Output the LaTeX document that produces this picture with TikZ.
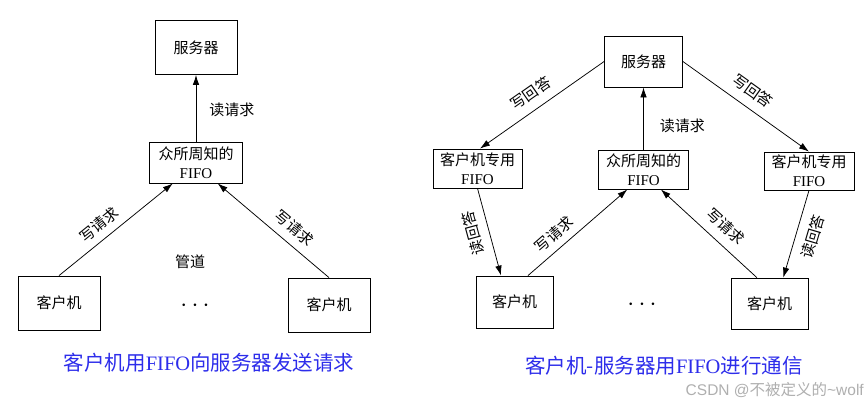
\documentclass[tikz,border=0pt]{standalone}
\usepackage{fontspec}
\setmainfont{Noto Sans CJK SC}
\newfontfamily\lat{Liberation Serif}
\newfontfamily\wmfont{Liberation Sans}
\usetikzlibrary{arrows.meta}
\definecolor{capblue}{RGB}{45,45,235}
\definecolor{wmgray}{RGB}{175,175,175}
\tikzset{
 box/.style={draw, line width=0.8pt, inner sep=0pt, font=\fontsize{15}{19}\selectfont, align=center},
 arr/.style={line width=0.75pt, -{Latex[length=10pt,width=6.5pt]}},
 rarr/.style={line width=0.75pt, {Latex[length=10pt,width=6.5pt]}-},
 lab/.style={font=\fontsize{15}{18}\selectfont, inner sep=0pt},
 captxt/.style={font=\fontsize{20.5}{24}\selectfont, text=capblue, inner sep=0pt},
 dotnode/.style={font=\fontsize{30}{30}\selectfont, inner sep=0pt},
}
\begin{document}
\begin{tikzpicture}[x=1pt,y=-1pt]
\useasboundingbox[fill=white] (0,0) rectangle (865,405);

% ---------- left diagram ----------
\node[box, minimum width=82pt, minimum height=54pt] (srvL) at (196,47.5) {服务器};
\node[box, minimum width=93pt, minimum height=41pt] (fifoL) at (196,162.5) {众所周知的\\{\lat FIFO}};
\node[box, minimum width=82pt, minimum height=54pt] (cL1) at (59,303) {客户机};
\node[box, minimum width=82pt, minimum height=54pt] (cL2) at (329,305) {客户机};

\draw[arr] (fifoL.north) -- node[lab, pos=0.48, right=13pt] {读请求} (srvL.south);
\draw[arr] (cL1.north) -- node[lab, sloped, pos=0.43, above=7pt] {写请求} (fifoL.222);
\draw[rarr] (fifoL.316) -- node[lab, sloped, pos=0.60, above=8.5pt] {写请求} (cL2.north);
\node[lab] (pipe) at (190,262) {管道};
\node[dotnode] (dotsL) at (195,306) {$\cdots$};

% ---------- right diagram ----------
\node[box, minimum width=78pt, minimum height=51pt] (srvR) at (643.5,61.5) {服务器};
\node[box, minimum width=90pt, minimum height=39pt] (fifoR) at (643.5,169.5) {众所周知的\\{\lat FIFO}};
\node[box, minimum width=89pt, minimum height=39pt] (pfL) at (477.5,168.5) {客户机专用\\{\lat FIFO}};
\node[box, minimum width=90pt, minimum height=38pt] (pfR) at (809,171) {客户机专用\\{\lat FIFO}};
\node[box, minimum width=77pt, minimum height=52pt] (crL) at (514.5,302) {客户机};
\node[box, minimum width=77pt, minimum height=51pt] (crR) at (769.5,303.5) {客户机};

\draw[arr] (fifoR.north) -- node[lab, pos=0.38, right=16pt] {读请求} (srvR.south);
\draw[rarr] (pfL.83) -- node[lab, sloped, pos=0.484, above=9pt] {写回答} (srvR.west);
\draw[arr] (srvR.east) -- node[lab, sloped, pos=0.477, above=9.5pt] {写回答} (pfR.north);
\draw[rarr] (crL.117) -- node[lab, sloped, allow upside down, pos=0.536, above=8.5pt] {读回答} (pfL.south);
\draw[rarr] (crR.62) -- node[lab, sloped, pos=0.523, below=9.5pt] {读回答} (pfR.south);
\draw[arr] (crL.63) -- node[lab, sloped, pos=0.356, above=7pt] {写请求} (fifoR.231);
\draw[rarr] (fifoR.311) -- node[lab, sloped, pos=0.561, above=9.5pt] {写请求} (crR.116);
\node[dotnode] (dotsR) at (642,305) {$\cdots$};

% ---------- captions ----------
\node[captxt] (capL) at (209,363) {客户机用{\lat FIFO}向服务器发送请求};
\node[captxt] (capR) at (664,366) {客户机-服务器用{\lat FIFO}进行通信};
\node[font=\fontsize{15.5}{17}\selectfont, text=wmgray, anchor=east, inner sep=0pt] (wm) at (864,390) {{\wmfont CSDN @}不被定义的{\wmfont\textasciitilde wolf}};
\end{tikzpicture}
\end{document}
